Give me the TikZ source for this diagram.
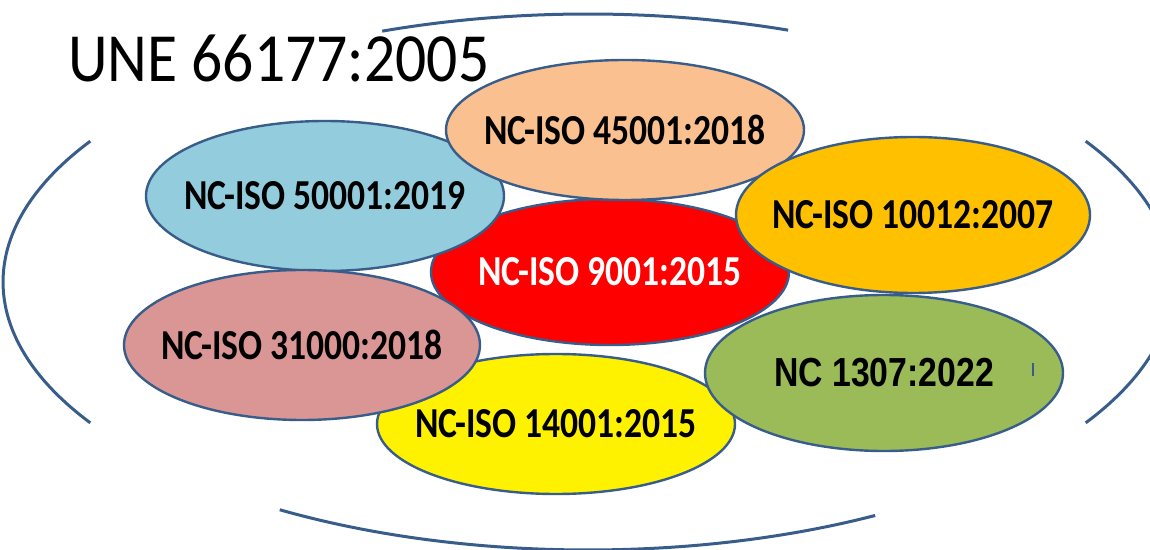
\documentclass[tikz,border=0pt]{standalone}
\usepackage{fontspec}
\usepackage{graphicx}
\setmainfont{Carlito}
\newfontfamily\arialfont{Liberation Sans}
\usetikzlibrary{shapes.geometric}
\definecolor{rim}{HTML}{385D8A}
\definecolor{peach}{HTML}{FAC090}
\definecolor{aqua}{HTML}{93CDDD}
\definecolor{amber}{HTML}{FFC000}
\definecolor{rose}{HTML}{D99694}
\definecolor{olive}{HTML}{9BBB59}
\newcommand{\blobtext}[1]{\makebox[0pt][c]{\scalebox{1}[1.2]{#1}}}
\tikzset{
  normblob/.style={ellipse,draw=rim,line width=1.2pt,inner sep=0pt,
    minimum width=179pt,minimum height=73pt,
    font=\fontsize{17.8}{20}\selectfont\bfseries},
  rimarc/.style={draw=rim,line width=1.5pt}
}
\begin{document}
\begin{tikzpicture}[x=0.5pt,y=-0.5pt]
\useasboundingbox (0,0) rectangle (1150,550);

\draw[rimarc] (588,282) ++(-110.6:585 and 268) arc[start angle=-110.6,end angle=-70,x radius=585,y radius=268];
\draw[rimarc] (588,282) ++(148.3:585 and 268) arc[start angle=148.3,end angle=211.7,x radius=585,y radius=268];
\draw[rimarc] (588,282) ++(60.6:585 and 268) arc[start angle=60.6,end angle=121.8,x radius=585,y radius=268];
\draw[rimarc] (588,282) ++(-31.7:585 and 268) arc[start angle=-31.7,end angle=31.7,x radius=585,y radius=268];

\node[anchor=base west,font=\fontsize{30.8}{34}\selectfont,inner sep=0pt] (title) at (68,82) {\scalebox{1}[1.12]{UNE 66177:2005}};

\node[normblob,fill=red,text=white] (iso9001) at (610,272) {\blobtext{NC-ISO 9001:2015}};
\node[normblob,fill=aqua,minimum height=75pt] (iso50001) at (325,196) {\blobtext{NC-ISO 50001:2019}};
\node[normblob,fill=peach,minimum height=70pt] (iso45001) at (625,130) {\blobtext{NC-ISO 45001:2018}};
\node[normblob,fill=amber,minimum width=177pt,minimum height=78pt] (iso10012) at (913,215) {\blobtext{NC-ISO 10012:2007}};
\node[normblob,fill=yellow,minimum height=70pt] (iso14001) at (556,424) {\blobtext{NC-ISO 14001:2015}};
\node[normblob,fill=rose,minimum width=178pt,minimum height=75pt] (iso31000) at (302,345) {\blobtext{NC-ISO 31000:2018}};
\node[normblob,fill=olive,font=\arialfont\fontsize{16.9}{20}\selectfont\bfseries,minimum height=78pt] (nc1307) at (884,373) {\blobtext{NC 1307:2022}};

\draw[rim,line width=0.6pt] (1033,363) -- (1033,376);
\end{tikzpicture}
\end{document}
